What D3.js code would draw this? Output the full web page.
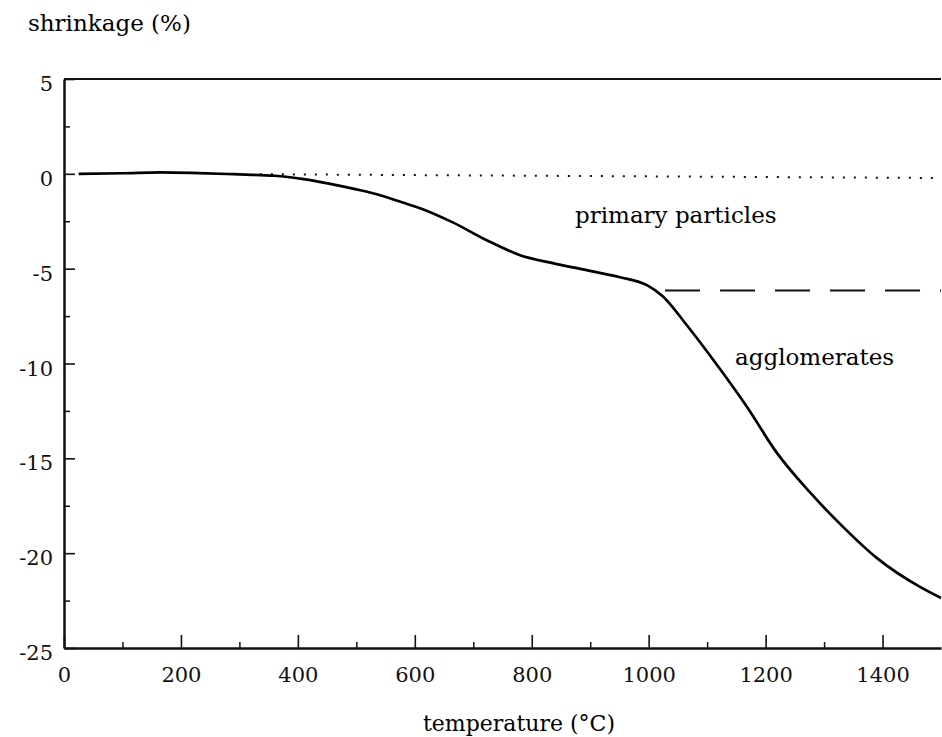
<!DOCTYPE html>
<html>
<head>
<meta charset="utf-8">
<script src="https://cdn.jsdelivr.net/npm/d3@7"></script>
<style>
  html, body { margin: 0; padding: 0; background: #fff; }
  svg { display: block; font-family: "DejaVu Serif", "Liberation Serif", serif; }
  .axis path, .axis line { stroke: #111; }
  .axis text { fill: #111; font-family: "DejaVu Serif", serif; }
</style>
</head>
<body>
<div id="chart"></div>
<script>
const svgWidth = 942;
const svgHeight = 737;

// shrinkage curve
const temperature = [25, 100, 165, 230, 290, 360, 410, 451, 500, 542, 578, 609, 665, 723, 780, 836, 894, 951, 997, 1024, 1065, 1117, 1168, 1219, 1276, 1332, 1390, 1464, 1500];
const shrinkage = [0, 0.03, 0.08, 0.04, -0.02, -0.1, -0.28, -0.5, -0.82, -1.14, -1.5, -1.81, -2.56, -3.5, -4.29, -4.71, -5.08, -5.45, -5.87, -6.45, -7.97, -10.08, -12.28, -14.7, -16.8, -18.6, -20.25, -21.78, -22.36];

// reference lines
const primaryT = [335, 1500];
const primaryS = [-0.02, -0.22];
const agglomT = [1028, 1500];
const agglomS = [-6.15, -6.15];

const xTicks = [0, 200, 400, 600, 800, 1000, 1200, 1400];
const xMinorTicks = [100, 300, 500, 700, 900, 1100, 1300];
const yTicks = [5, 0, -5, -10, -15, -20, -25];
const yMinorTicks = [2.5, -2.5, -7.5, -12.5, -17.5, -22.5];

const svg = d3.select("#chart")
  .append("svg")
  .attr("width", svgWidth)
  .attr("height", svgHeight)
  .attr("viewBox", `0 0 ${svgWidth} ${svgHeight}`);

svg.append("rect").attr("width", svgWidth).attr("height", svgHeight).attr("fill", "#fff");

const xScale = d3.scaleLinear().domain([0, 1500]).range([64, 941]);
const yScale = d3.scaleLinear().domain([-25, 5]).range([648, 79]);

// top frame
svg.append("line")
  .attr("x1", xScale(0)).attr("x2", xScale(1500))
  .attr("y1", yScale(5)).attr("y2", yScale(5))
  .attr("stroke", "#111").attr("stroke-width", 2);

// minor ticks
svg.append("g")
  .attr("class", "axis")
  .attr("transform", `translate(0,${yScale(-25)})`)
  .call(d3.axisBottom(xScale).tickValues(xMinorTicks).tickSize(-6).tickSizeOuter(0).tickFormat(""))
  .call((g) => g.select(".domain").remove())
  .selectAll("line").attr("stroke-width", 1.5);

svg.append("g")
  .attr("class", "axis")
  .attr("transform", `translate(${xScale(0)},0)`)
  .call(d3.axisLeft(yScale).tickValues(yMinorTicks).tickSize(-6).tickSizeOuter(0).tickFormat(""))
  .call((g) => g.select(".domain").remove())
  .selectAll("line").attr("stroke-width", 1.5);

// major axes
const xAxis = svg.append("g")
  .attr("class", "axis")
  .attr("transform", `translate(0,${yScale(-25)})`)
  .call(d3.axisBottom(xScale).tickValues(xTicks).tickSize(-13).tickSizeOuter(0).tickPadding(19).tickFormat((d) => String(d)));
xAxis.select(".domain").attr("stroke-width", 2.5);
xAxis.selectAll("line").attr("stroke-width", 1.6);
xAxis.selectAll("text").attr("font-size", "21px");

const yAxis = svg.append("g")
  .attr("class", "axis")
  .attr("transform", `translate(${xScale(0)},0)`)
  .call(d3.axisLeft(yScale).tickValues(yTicks).tickSize(-11).tickSizeOuter(0).tickPadding(11).tickFormat((d) => String(d)));
yAxis.select(".domain").attr("stroke-width", 2.5);
yAxis.selectAll("line").attr("stroke-width", 1.6);
yAxis.selectAll("text").attr("font-size", "21px").attr("dy", "0.55em");

const line = d3.line()
  .x((d) => xScale(d[0]))
  .y((d) => yScale(d[1]))
  .curve(d3.curveMonotoneX);

svg.append("path")
  .datum(d3.zip(primaryT, primaryS))
  .attr("d", d3.line().x((d) => xScale(d[0])).y((d) => yScale(d[1])))
  .attr("fill", "none")
  .attr("stroke", "#111")
  .attr("stroke-width", 2)
  .attr("stroke-dasharray", "2,9");

svg.append("path")
  .datum(d3.zip(agglomT, agglomS))
  .attr("d", d3.line().x((d) => xScale(d[0])).y((d) => yScale(d[1])))
  .attr("fill", "none")
  .attr("stroke", "#111")
  .attr("stroke-width", 2)
  .attr("stroke-dasharray", "35,20");

svg.append("path")
  .datum(d3.zip(temperature, shrinkage))
  .attr("d", line)
  .attr("fill", "none")
  .attr("stroke", "#000")
  .attr("stroke-width", 2.7)
  .attr("stroke-linejoin", "round");

// labels
svg.append("text")
  .attr("x", 28).attr("y", 31)
  .attr("font-size", "23px")
  .text("shrinkage (%)");

svg.append("text")
  .attr("x", 519).attr("y", 731)
  .attr("text-anchor", "middle")
  .attr("font-size", "22px")
  .text("temperature (°C)");

svg.append("text")
  .attr("x", 575).attr("y", 223)
  .attr("font-size", "23px")
  .text("primary particles");

svg.append("text")
  .attr("x", 735).attr("y", 365)
  .attr("font-size", "23px")
  .text("agglomerates");
</script>
</body>
</html>
